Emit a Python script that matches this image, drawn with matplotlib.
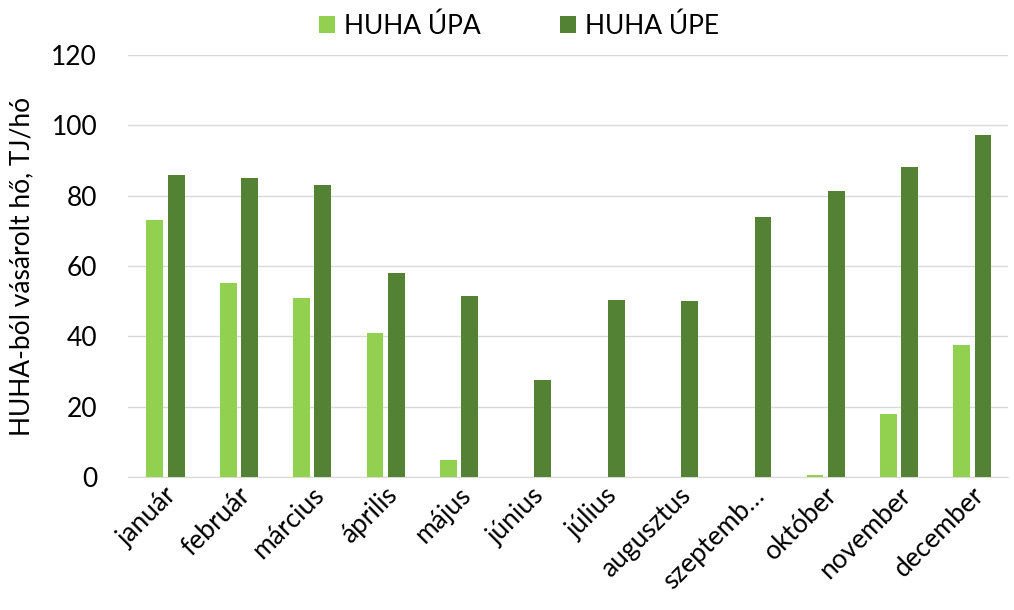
import matplotlib.pyplot as plt
import numpy as np

plt.rcParams['font.family'] = ['Lato', 'DejaVu Sans']

honapok = ['január', 'február', 'március', 'április', 'május', 'június',
           'július', 'augusztus', 'szeptemb…', 'október', 'november', 'december']
upa = [73, 55.2, 50.9, 41, 4.8, 0, 0, 0, 0, 0.6, 17.9, 37.5]
upe = [86, 85, 83, 58, 51.5, 27.6, 50.3, 50, 74, 81.3, 88, 97.2]

fig = plt.figure(figsize=(10.14, 6.10), dpi=100)
ax = fig.add_axes([0.126, 0.218, 0.868, 0.692])

x = np.arange(len(honapok))
w = 0.23
ax.bar(x - 0.13, upa, w, color='#92D050', label='HUHA ÚPA', zorder=3)
ax.bar(x + 0.16, upe, w, color='#548235', label='HUHA ÚPE', zorder=3)

ax.set_xlim(-0.5, len(honapok) - 0.5)
ax.set_ylim(0, 120)
ax.set_yticks(range(0, 121, 20))
ax.yaxis.grid(True, color='#D9D9D9', linewidth=1, zorder=0)
for s in ['top', 'right', 'left']:
    ax.spines[s].set_visible(False)
ax.spines['bottom'].set_color('#D9D9D9')
ax.tick_params(axis='both', length=0, labelsize=19, colors='black')
ax.tick_params(axis='y', pad=22)
ax.tick_params(axis='x', pad=4)
ax.set_xticks(x)
ax.set_xticklabels(honapok, rotation=45, ha='right', rotation_mode='anchor')
ax.set_ylabel('HUHA-ból vásárolt hő, TJ/hó', fontsize=19, labelpad=12)

ax.legend(loc='lower center', bbox_to_anchor=(0.445, 1.0), ncol=2, frameon=False,
          fontsize=19, handlelength=0.6, handleheight=0.6, columnspacing=3.0,
          handletextpad=0.35, borderaxespad=0.2)

fig.savefig('out.png', dpi=100)
